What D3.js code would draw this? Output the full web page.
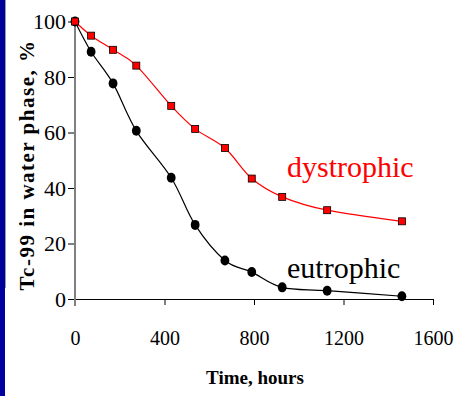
<!DOCTYPE html>
<html>
<head>
<meta charset="utf-8">
<script src="https://cdn.jsdelivr.net/npm/d3@7"></script>
<style>
  body { margin: 0; background: #fff; }
  svg { display: block; }
</style>
</head>
<body>
<svg id="drawing_region"></svg>
<script>
// time points, hours
const hours = [0, 72, 170, 274, 430, 537, 670, 790, 926, 1127, 1461];
// Tc-99 remaining in water phase, %
const dystrophic = [100, 94.9, 89.8, 84.1, 69.6, 61.3, 54.4, 43.4, 36.8, 32.0, 28.0];
const eutrophic  = [100, 89.1, 77.7, 60.6, 43.7, 26.7, 13.9, 9.7, 4.2, 3.0, 1.0];
const xticks = [0, 400, 800, 1200, 1600];
const yticks = [0, 20, 40, 60, 80, 100];

const width = 455, height = 396;
const serif = '"Liberation Serif", "Times New Roman", serif';

const svg = d3.select('#drawing_region')
    .attr('width', width)
    .attr('height', height);

// blue strip on the left edge (slide background)
svg.append('rect')
    .attr('x', 0).attr('y', 0)
    .attr('width', 5).attr('height', height)
    .attr('fill', '#00009c');
svg.append('line')
    .attr('x1', 5.5).attr('x2', 5.5)
    .attr('y1', 0).attr('y2', 288)
    .attr('stroke', '#9a9aaa');

const xscale = d3.scaleLinear().domain([0, 1600]).range([75, 433]);
const yscale = d3.scaleLinear().domain([0, 100]).range([299, 21.5]);

// x axis
const xaxis = d3.axisBottom(xscale)
    .tickValues(xticks)
    .tickFormat(d3.format('d'))
    .tickSize(6)
    .tickPadding(26)
    .tickSizeOuter(0);
const xaxis_group = svg.append('g')
    .attr('transform', `translate(0, ${yscale(0)})`)
    .call(xaxis);
xaxis_group.attr('font-family', serif);
xaxis_group.select('.domain').attr('stroke', '#000');
xaxis_group.selectAll('text')
    .style('font-family', serif)
    .attr('font-size', 20)
    .attr('fill', '#000');

// y axis
const yaxis = d3.axisLeft(yscale)
    .tickValues(yticks)
    .tickFormat(d3.format('d'))
    .tickSize(7)
    .tickPadding(2)
    .tickSizeOuter(0);
const yaxis_group = svg.append('g')
    .attr('transform', `translate(${xscale(0)}, 0)`)
    .call(yaxis);
yaxis_group.attr('font-family', serif);
yaxis_group.select('.domain').remove();
yaxis_group.selectAll('text')
    .style('font-family', serif)
    .attr('font-size', 22)
    .attr('fill', '#000');
svg.append('line')
    .attr('x1', xscale(0)).attr('x2', xscale(0))
    .attr('y1', yscale(100)).attr('y2', yscale(0) + 7)
    .attr('stroke', '#808080')
    .attr('stroke-width', 2);

// axis titles
svg.append('text')
    .attr('x', 255).attr('y', 384)
    .attr('text-anchor', 'middle')
    .style('font-family', serif)
    .attr('font-size', 19)
    .attr('font-weight', 'bold')
    .text('Time, hours');

svg.append('text')
    .attr('transform', 'translate(34, 165) rotate(-90)')
    .attr('text-anchor', 'middle')
    .style('font-family', serif)
    .attr('font-size', 21)
    .attr('font-weight', 'bold')
    .attr('letter-spacing', 1.5)
    .text('Tc-99 in water phase, %');

// series
const line = d3.line()
    .x(d => xscale(d[0]))
    .y(d => yscale(d[1]))
    .curve(d3.curveCardinal.tension(0));

const dys = hours.map((h, i) => [h, dystrophic[i]]);
const eut = hours.map((h, i) => [h, eutrophic[i]]);

svg.append('path')
    .attr('d', line(eut))
    .attr('fill', 'none')
    .attr('stroke', '#000')
    .attr('stroke-width', 1.2);

svg.selectAll('ellipse.eut')
    .data(eut)
    .enter()
    .append('ellipse')
    .attr('class', 'eut')
    .attr('cx', d => xscale(d[0]))
    .attr('cy', d => yscale(d[1]))
    .attr('rx', 4.4)
    .attr('ry', 5)
    .attr('fill', '#000');

svg.append('path')
    .attr('d', line(dys))
    .attr('fill', 'none')
    .attr('stroke', '#ff0000')
    .attr('stroke-width', 1.2);

svg.selectAll('rect.dys')
    .data(dys)
    .enter()
    .append('rect')
    .attr('class', 'dys')
    .attr('x', d => xscale(d[0]) - 3.5)
    .attr('y', d => yscale(d[1]) - 3.5)
    .attr('width', 7)
    .attr('height', 7)
    .attr('fill', '#ff0000')
    .attr('stroke', '#000')
    .attr('stroke-width', 0.8);

// series labels
svg.append('text')
    .attr('x', 287).attr('y', 177)
    .style('font-family', serif)
    .attr('font-size', 30)
    .attr('fill', '#ff0000')
    .text('dystrophic');
svg.append('text')
    .attr('x', 287).attr('y', 278)
    .style('font-family', serif)
    .attr('font-size', 30)
    .attr('fill', '#000')
    .text('eutrophic');
</script>
</body>
</html>
